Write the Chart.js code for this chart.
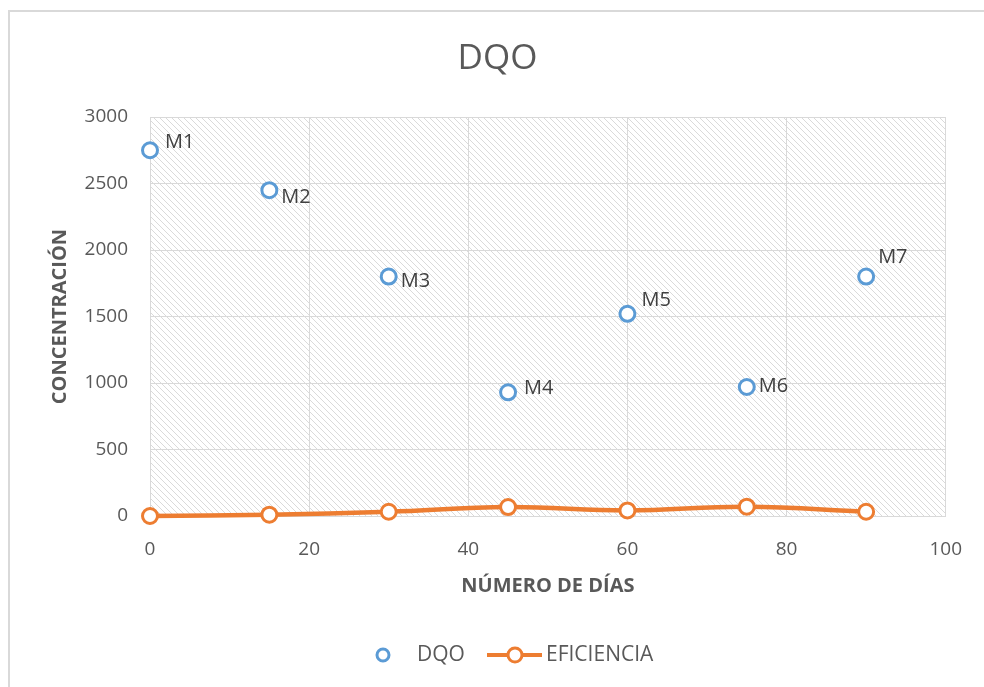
<!DOCTYPE html>
<html>
<head>
<meta charset="utf-8">
<title>DQO</title>
<script src="https://cdn.jsdelivr.net/npm/chart.js@4/dist/chart.umd.min.js"></script>
<style>
  html, body { margin: 0; padding: 0; background: #fff; }
  #wrap { width: 984px; height: 687px; }
</style>
</head>
<body>
<div id="wrap"><canvas id="chart" width="984" height="687"></canvas></div>
<script>
// sampling days and measured values
var days = [0, 15, 30, 45, 60, 75, 90];
var dqo = [2750, 2450, 1800, 930, 1520, 970, 1800];
var eficiencia = [0, 10, 32, 67, 42, 70, 32];
var sampleNames = ['M1', 'M2', 'M3', 'M4', 'M5', 'M6', 'M7'];

var BLUE = '#5B9BD5', ORANGE = '#ED7D31', GRID = '#D9D9D9', TEXT = '#595959';
var FONT = "'Open Sans', 'Liberation Sans', sans-serif";

// where each sample name sits relative to its point
var nameOffsets = [[15, -8], [12, 7], [12, 5], [16, -4], [14, -14], [12, -1], [12, -19]];

function toPoints(xs, ys) {
   return xs.map(function(x, i) { return { x: x, y: ys[i] }; });
}

// diagonal hatch used behind the plot
function makeHatch(ctx) {
   var tile = document.createElement('canvas');
   tile.width = 6; tile.height = 6;
   var t = tile.getContext('2d');
   t.strokeStyle = '#dadada';
   t.lineWidth = 1;
   t.beginPath();
   t.moveTo(0, 0); t.lineTo(6, 6);
   t.moveTo(-1, 5); t.lineTo(1, 7);
   t.moveTo(5, -1); t.lineTo(7, 1);
   t.stroke();
   return ctx.createPattern(tile, 'repeat');
}

var backdrop = {
   id: 'backdrop',
   beforeDraw: function(chart) {
      var ctx = chart.ctx, a = chart.chartArea;
      ctx.save();
      ctx.strokeStyle = GRID;
      ctx.lineWidth = 2;
      ctx.strokeRect(9, 11, 1100, 1100);
      ctx.fillStyle = makeHatch(ctx);
      ctx.fillRect(a.left, a.top, a.right - a.left, a.bottom - a.top);
      ctx.restore();
   }
};

var sampleLabels = {
   id: 'sampleLabels',
   afterDatasetsDraw: function(chart) {
      var ctx = chart.ctx;
      var meta = chart.getDatasetMeta(0);
      ctx.save();
      ctx.font = '20px ' + FONT;
      ctx.fillStyle = '#404040';
      ctx.textAlign = 'left';
      ctx.textBaseline = 'middle';
      meta.data.forEach(function(pt, i) {
         var off = nameOffsets[i];
         ctx.fillText(sampleNames[i], pt.x + off[0], pt.y + off[1]);
      });
      ctx.restore();
   }
};

// legend: open marker for DQO, line with marker for EFICIENCIA
var bottomLegend = {
   id: 'bottomLegend',
   afterDraw: function(chart) {
      var ctx = chart.ctx, y = 655;
      var ds = chart.data.datasets;
      ctx.save();
      ctx.lineWidth = 3;
      ctx.fillStyle = '#fff';
      ctx.strokeStyle = BLUE;
      ctx.beginPath(); ctx.arc(383, y, 6, 0, Math.PI * 2); ctx.fill(); ctx.stroke();

      ctx.strokeStyle = ORANGE;
      ctx.lineWidth = 4;
      ctx.beginPath(); ctx.moveTo(487, y); ctx.lineTo(542, y); ctx.stroke();
      ctx.lineWidth = 3;
      ctx.beginPath(); ctx.arc(515, y, 7, 0, Math.PI * 2); ctx.fill(); ctx.stroke();

      ctx.font = '21px ' + FONT;
      ctx.fillStyle = TEXT;
      ctx.textBaseline = 'middle';
      ctx.fillText(ds[0].label, 417, y);
      ctx.fillText(ds[1].label, 546, y);
      ctx.restore();
   }
};

function plainNumber(v) { return String(v); }

var chartSettings = {
   type: 'scatter',
   data: {
      datasets: [{
         label: 'DQO',
         data: toPoints(days, dqo),
         showLine: false,
         clip: false,
         borderColor: BLUE,
         backgroundColor: '#fff',
         pointRadius: 7.5,
         pointBorderWidth: 3
      }, {
         label: 'EFICIENCIA',
         data: toPoints(days, eficiencia),
         showLine: true,
         clip: false,
         tension: 0.4,
         borderColor: ORANGE,
         borderWidth: 4.5,
         backgroundColor: '#fff',
         pointBackgroundColor: '#fff',
         pointBorderColor: ORANGE,
         pointRadius: 7.5,
         pointBorderWidth: 3
      }]
   },
   options: {
      responsive: false,
      animation: false,
      layout: { padding: { left: 40, right: 29, top: 0, bottom: 71 } },
      plugins: {
         legend: { display: false },
         tooltip: { enabled: false },
         title: {
            display: true,
            text: 'DQO',
            color: TEXT,
            font: { family: FONT, size: 35, weight: 'normal' },
            padding: { top: 38, bottom: 37 }
         }
      },
      scales: {
         x: {
            type: 'linear',
            min: 0,
            max: 100,
            ticks: { stepSize: 20, color: TEXT, font: { family: FONT, size: 19 }, padding: 22, callback: plainNumber },
            grid: { color: GRID, drawTicks: false },
            border: { color: GRID },
            title: {
               display: true,
               text: 'NÚMERO DE DÍAS',
               color: TEXT,
               font: { family: FONT, size: 20, weight: 'bold' },
               padding: { top: 4, bottom: 18 }
            },
            afterFit: function(scale) { scale.height = 100; }
         },
         y: {
            min: 0,
            max: 3000,
            ticks: { stepSize: 500, color: TEXT, font: { family: FONT, size: 19 }, padding: 22, callback: plainNumber },
            grid: { color: GRID, drawTicks: false },
            border: { color: GRID },
            title: {
               display: true,
               text: 'CONCENTRACIÓN',
               color: TEXT,
               font: { family: FONT, size: 20, weight: 'bold' },
               padding: { top: 8, bottom: 4 }
            },
            afterFit: function(scale) { scale.width = 110; }
         }
      }
   },
   plugins: [backdrop, sampleLabels, bottomLegend]
};

new Chart(document.getElementById('chart'), chartSettings);
</script>
</body>
</html>
